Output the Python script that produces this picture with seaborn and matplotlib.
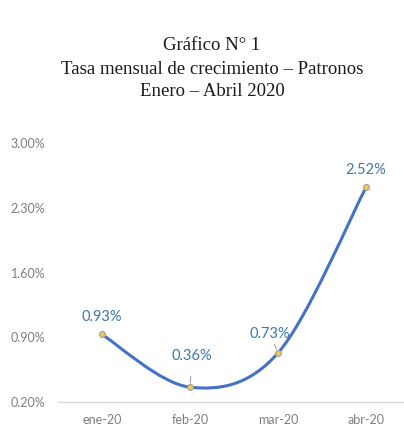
import numpy as np
import pandas as pd
import seaborn as sns
import matplotlib.pyplot as plt
from matplotlib.path import Path
from matplotlib.patches import PathPatch

# --- Data ---
MONTHS = ["ene-20", "feb-20", "mar-20", "abr-20"]
RATES = [0.93, 0.36, 0.73, 2.52]
LABELS = ["0.93%", "0.36%", "0.73%", "2.52%"]
Y_TICKS = [0.20, 0.90, 1.60, 2.30, 3.00]

LINE_COLOR = "#4472C4"
LABEL_COLOR = "#3C78A8"
TICK_COLOR = "#7F7F7F"

sns.set_theme(style="white")
plt.rcParams["font.family"] = ["Lato", "DejaVu Sans"]

df = pd.DataFrame({"mes": MONTHS, "tasa": RATES})
df["x"] = np.arange(len(df))

fig = plt.figure(figsize=(4.04, 4.26), dpi=100)
W, H = 404, 426
# axes: x from 58px to 410px, y from 143px (3.00%) to 402px (0.20%)
ax = fig.add_axes([58 / W, 1 - 402 / H, (410 - 58) / W, (402 - 143) / H])

# --- smoothed line (Excel-like bezier through the points) ---
pts = df[["x", "tasa"]].to_numpy(dtype=float)
verts = [tuple(pts[0])]
codes = [Path.MOVETO]
n = len(pts)
for i in range(n - 1):
    p0 = pts[i - 1] if i > 0 else pts[i]
    p1 = pts[i]
    p2 = pts[i + 1]
    p3 = pts[i + 2] if i + 2 < n else pts[i + 1]
    c1 = p1 + (p2 - p0) / 6
    c2 = p2 - (p3 - p1) / 6
    verts += [tuple(c1), tuple(c2), tuple(p2)]
    codes += [Path.CURVE4] * 3
ax.add_patch(PathPatch(Path(verts, codes), facecolor="none", edgecolor=LINE_COLOR,
                       lw=2.2, capstyle="round", zorder=2))

sns.scatterplot(data=df, x="x", y="tasa", ax=ax, s=18, color="#F2C94C",
                edgecolor="#A0A0A0", linewidth=0.8, zorder=3, legend=False)

# --- data labels ---
offsets = [(0, 17), (2, 31), (-8, 19), (0, 17)]
leaders = [False, True, True, False]
for xi, yi, lab, off, leader in zip(df["x"], df["tasa"], LABELS, offsets, leaders):
    ax.annotate(lab, (xi, yi), xytext=off, textcoords="offset pixels",
                ha="center", va="center", fontsize=10.5, color=LABEL_COLOR,
                arrowprops=dict(arrowstyle="-", color="#A6A6A6", lw=0.8,
                                shrinkA=7, shrinkB=3) if leader else None)

ax.set_xlim(-0.5, 3.5)
ax.set_ylim(0.20, 3.00)
ax.set_xticks(df["x"])
ax.set_xticklabels(MONTHS)
ax.set_yticks(Y_TICKS)
ax.set_yticklabels([f"{v:.2f}%" for v in Y_TICKS])
ax.tick_params(axis="both", length=0, labelsize=9, labelcolor=TICK_COLOR)
ax.tick_params(axis="y", pad=9)
ax.tick_params(axis="x", pad=9)
for side in ["top", "right", "left"]:
    ax.spines[side].set_visible(False)
ax.spines["bottom"].set_color("#D9D9D9")
ax.spines["bottom"].set_linewidth(1)
ax.set_xlabel("")
ax.set_ylabel("")
ax.grid(False)

# --- title ---
title_lines = ["Gráfico N° 1", "Tasa mensual de crecimiento – Patronos", "Enero – Abril 2020"]
for yy, t in zip([45, 69, 92], title_lines):
    fig.text(212 / W, 1 - yy / H, t, ha="center", va="center", fontsize=13.5,
             family=["Liberation Serif", "DejaVu Serif"], color="#1A1A1A")

fig.savefig("out.png", dpi=100)
